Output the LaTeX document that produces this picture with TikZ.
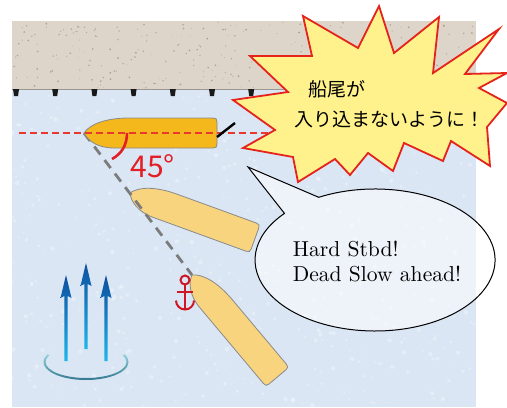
\documentclass[tikz,border=0pt]{standalone}
\usepackage{fontspec}
\newfontfamily\jpfont{Noto Sans CJK JP}
\usetikzlibrary{positioning}

\definecolor{sandcol}{HTML}{DDD5C9}
\definecolor{graincol}{HTML}{ADA394}
\definecolor{seacol}{HTML}{DAE6F4}
\definecolor{quaycol}{HTML}{9C968E}
\definecolor{shipdark}{HTML}{F4B81D}
\definecolor{shiplight}{HTML}{F8D47F}
\definecolor{hullcol}{HTML}{8A8A8A}
\definecolor{courseline}{HTML}{E8392E}
\definecolor{anglered}{HTML}{E31E26}
\definecolor{anchorred}{HTML}{CF1625}
\definecolor{burstfill}{HTML}{FFF28C}
\definecolor{burstedge}{HTML}{E5231B}
\definecolor{jetdark}{HTML}{0D4E9E}
\definecolor{jetlight}{HTML}{1FB6EC}
\definecolor{swirllight}{HTML}{8ED0DB}
\definecolor{swirldark}{HTML}{2A7087}

\tikzset{
  fender/.style={fill=black!90},
  hull/.style={draw=hullcol, line width=0.4pt},
  pics/ship/.style={code={
    \path[hull, fill=#1] (0,0) .. controls (6,-9) and (22,-15) .. (45,-15)
      -- (129,-15) .. controls (132,-15) and (133,-14) .. (133,-11)
      -- (133,11) .. controls (133,14) and (132,15) .. (129,15)
      -- (30,15) .. controls (14,15) and (4,8) .. (0,0) -- cycle;
    \coordinate (-stern) at (133,4);
  }},
  course/.style={courseline, line width=0.7pt, dash pattern=on 3.5pt off 2pt},
  bearing/.style={hullcol!90!black, line width=1.4pt, dash pattern=on 5pt off 3.5pt},
  rudder/.style={black, line width=1.2pt},
  anglemark/.style={anglered, line width=1.3pt},
  burst/.style={fill=burstfill, draw=burstedge, line width=0.9pt},
  bubble/.style={fill=white, fill opacity=0.55, draw=black, line width=0.5pt},
  jptext/.style={inner sep=0, font=\jpfont\fontsize{9.5}{11}\selectfont},
  orders/.style={align=left, inner sep=0, font=\fontsize{10.8}{12.5}\selectfont},
}

\begin{document}
\begin{tikzpicture}[x=0.5pt, y=-0.5pt]
\useasboundingbox (0,0) rectangle (507,407);

\fill[sandcol] (12,21) rectangle (476,89);
\pgfmathsetseed{4}
\foreach \i in {1,...,260}
  \fill[graincol] ({12+464*rnd},{22+66*rnd}) circle ({0.3+0.7*rnd});
\fill[seacol] (12,89) rectangle (476,407);
\foreach \i in {1,...,500}
  \fill[white, opacity=0.3] ({12+464*rnd},{90+316*rnd}) circle ({0.8+1.5*rnd});
\draw[quaycol, line width=0.5pt] (12,89) -- (476,89);
\foreach \x in {16,55.2,...,470}
  \fill[fender] (\x-3,89) -- (\x+3,89) -- (\x+2,96) -- (\x-2,96) -- cycle;

\coordinate (bow1) at (84,133);
\coordinate (bow2) at (130,193);
\coordinate (bow3) at (192,275);
\coordinate (helm) at (235,123);

\pic[rotate=-20] (s2) at (bow2) {ship=shiplight};
\pic[rotate=-50] (s3) at (bow3) {ship=shiplight};
\draw[bearing] (bow1) -- (bow3);
\pic (s1) at (bow1) {ship=shipdark};
\draw[course] (19,133) -- (300,133);
\draw[rudder] (s1-stern) -- (helm);
\draw[anglemark] (127,133) .. controls (127,146) and (121,154) .. (112,159);
\node[anglered, inner sep=0, anchor=base west, font=\jpfont\fontsize{15}{15}\selectfont] (deg) at (130,177) {45°};

\begin{scope}[shift={(185,280)}, anchorred, line width=1pt]
  \draw (0,0) circle (4.5);
  \draw (0,4.5) -- (0,30);
  \draw (-8,12) -- (8,12);
  \draw (-9,20.5) arc[start angle=180, end angle=0, radius=9];
\end{scope}

\foreach \jx/\jtop/\jbot in {66/275/361, 86/263/349, 106/275/361}
  \shade[top color=jetdark, bottom color=jetlight]
    (\jx-1.7,\jbot) -- (\jx-1.7,\jtop+21) -- (\jx-5.5,\jtop+23) -- (\jx,\jtop)
    -- (\jx+5.5,\jtop+23) -- (\jx+1.7,\jtop+21) -- (\jx+1.7,\jbot) -- cycle;
\shade[top color=swirllight, bottom color=swirldark, shift={(86,362)}]
  (205:42.5 and 18) arc[start angle=205, end angle=-25, x radius=42.5, y radius=18]
  -- (-25:40.5 and 16) arc[start angle=-25, end angle=205, x radius=40.5, y radius=16] -- cycle;

\filldraw[burst] (303,16) -- (358,48) -- (379,6) -- (394,53) -- (439,17) -- (433,73)
  -- (499,29) -- (465,74) -- (507,73) -- (479,88) -- (507,103) -- (487,127)
  -- (490,166) -- (451,141) -- (443,161) -- (404,143) -- (393,171) -- (368,153)
  -- (350,175) -- (335,159) -- (298,182) -- (293,157) -- (243,148) -- (275,130)
  -- (233,100) -- (288,92) -- (250,56) -- (312,56) -- cycle;
\node[jptext, anchor=west] (warn1) at (308,89) {船尾が};
\node[jptext, anchor=west] (warn2) at (294,119) {入り込まないように！};

\filldraw[bubble] (318.7,197.3) arc[start angle=242, end angle=581, x radius=120, y radius=71]
  -- (248,167) -- cycle;
\node[orders] (orders) at (377,261) {Hard Stbd!\\Dead Slow ahead!};
\end{tikzpicture}
\end{document}
